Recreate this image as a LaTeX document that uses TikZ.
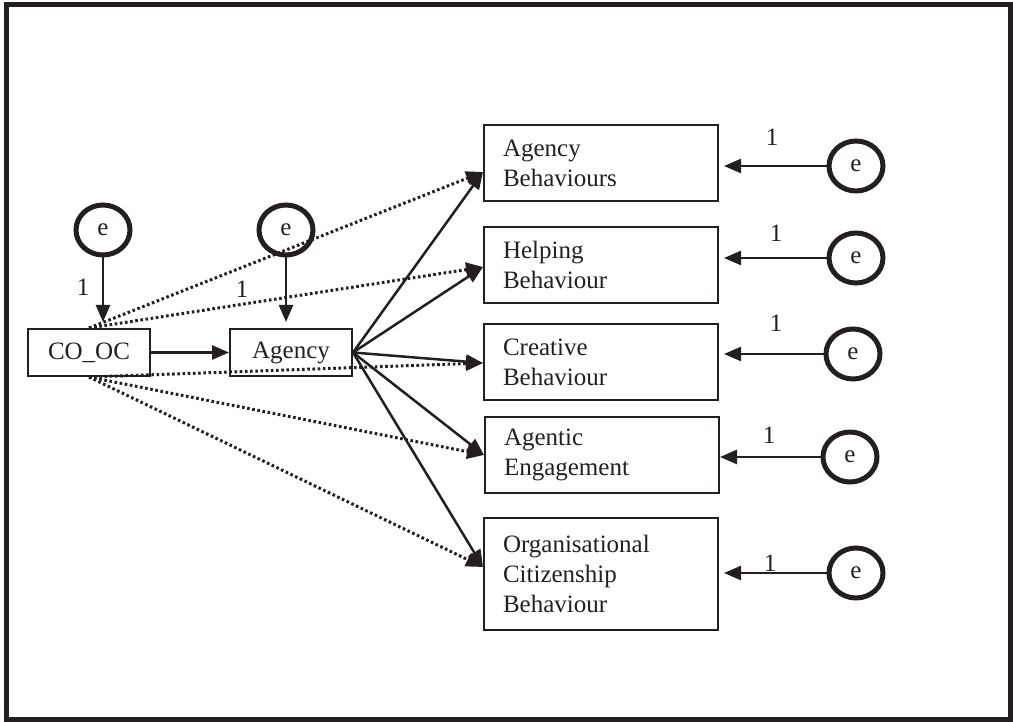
\documentclass[tikz,border=0pt]{standalone}
\usepackage{fontspec}
\setmainfont{Liberation Serif}
\usetikzlibrary{arrows.meta,shapes.geometric}
\definecolor{ink}{HTML}{231F20}
\begin{document}
\begin{tikzpicture}[x=1pt,y=-1pt,
  every node/.style={font=\fontsize{25}{30}\selectfont, text=ink},
  box/.style={draw=ink, line width=2pt, rectangle, inner sep=0pt, minimum height=47pt},
  outbox/.style={draw=ink, line width=2pt, rectangle, inner xsep=19pt, inner ysep=0pt,
                 text width=196pt, align=left, minimum height=76pt, anchor=north west},
  err/.style={draw=ink, line width=5pt, ellipse, inner sep=0pt,
              minimum width=54pt, minimum height=50pt},
  label/.style={inner sep=0pt},
  head/.style={-{Triangle[length=17pt,width=14pt]}},
  solidarr/.style={draw=ink, line width=2.5pt, head},
  dotarr/.style={draw=ink, line width=3pt, dash pattern=on 2.6pt off 2.6pt, head},
]
\useasboundingbox (0,0) rectangle (1013,722);
% outer frame
\draw[ink, line width=4.5pt] (6.5,4.5) rectangle (1010.5,719.5);

% predictor and mediator
\node[box, minimum width=122pt] (co) at (89,352.5) {CO\_OC};
\node[box, minimum width=122pt] (ag) at (291,352.5) {Agency};

% outcome boxes
\node[outbox] (ab)  at (483,124) {Agency\\Behaviours};
\node[outbox] (hb)  at (483,226) {Helping\\Behaviour};
\node[outbox] (cb)  at (483,323) {Creative\\Behaviour};
\node[outbox] (ae)  at (484,416) {Agentic\\Engagement};
\node[outbox, minimum height=112pt] (ocb) at (483,517) {Organisational\\Citizenship\\Behaviour};

% error terms
\node[err] (e1) at (103,230) {e};
\node[err] (e2) at (286,230) {e};
\node[err] (e3) at (856,166) {e};
\node[err] (e4) at (856,258) {e};
\node[err] (e5) at (853,354) {e};
\node[err] (e6) at (850,457) {e};
\node[err] (e7) at (856,573) {e};

% entry points on the outcome boxes
\coordinate (ab-in)  at (483,172);
\coordinate (hb-in)  at (483,267);
\coordinate (cb-in)  at (483,363);
\coordinate (ae-in)  at (484,455);
\coordinate (ocb-in) at (483,567);

% direct (dotted) paths from CO_OC
\draw[dotarr] (co.north) -- (ab-in);
\draw[dotarr] (co.north) -- (hb-in);
\draw[dotarr] (co.south) -- (cb-in);
\draw[dotarr] (co.south) -- (ae-in);
\draw[dotarr] (co.south) -- (ocb-in);

% mediated paths
\draw[solidarr] (co) -- (ag);
\draw[solidarr] (ag.east) -- (ab-in);
\draw[solidarr] (ag.east) -- (hb-in);
\draw[solidarr] (ag.east) -- (cb-in);
\draw[solidarr] (ag.east) -- (ae-in);
\draw[solidarr] (ag.east) -- (ocb-in);

% error arrows
\draw[solidarr, shorten >=6pt] (e1) -- (e1 |- co.north);
\draw[solidarr, shorten >=6pt] (e2) -- (e2 |- ag.north);
\draw[solidarr, shorten >=5pt] (e3) -- (e3 -| ab.east);
\draw[solidarr, shorten >=5pt] (e4) -- (e4 -| hb.east);
\draw[solidarr, shorten >=5pt] (e5) -- (e5 -| cb.east);
\draw[solidarr] (e6) -- (e6 -| ae.east);
\draw[solidarr, shorten >=5pt] (e7) -- (e7 -| ocb.east);

% fixed loadings
\node[label] (l1) at (83,287) {1};
\node[label] (l2) at (242,289) {1};
\node[label] (l3) at (772,137) {1};
\node[label] (l4) at (776,233) {1};
\node[label] (l5) at (776,323) {1};
\node[label] (l6) at (769,435) {1};
\node[label] (l7) at (770,563) {1};
\end{tikzpicture}
\end{document}
